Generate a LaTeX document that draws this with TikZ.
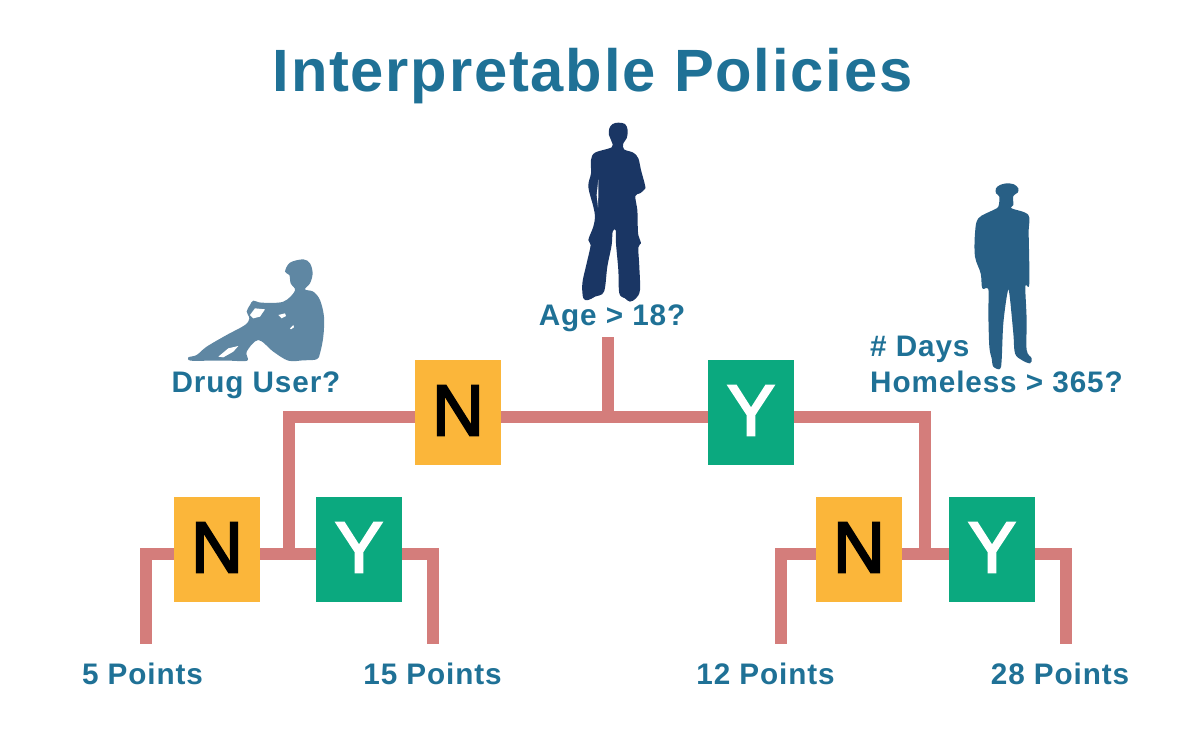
\documentclass[tikz,border=0pt]{standalone}
\usepackage{fontspec}
\setmainfont{Liberation Sans}
\definecolor{texcol}{HTML}{1F7196}
\definecolor{linecol}{HTML}{D47D7B}
\definecolor{nocol}{HTML}{FBB63A}
\definecolor{yescol}{HTML}{0BA97F}
\definecolor{agecol}{HTML}{1A3664}
\definecolor{drugcol}{HTML}{5F87A3}
\definecolor{dayscol}{HTML}{285F85}
\newfontfamily\labfont[LetterSpace=3,Ligatures=NoCommon]{Liberation Sans}
\newfontfamily\boxfont[FakeBold=3]{Liberation Sans}
\tikzset{
  answer/.style={minimum width=86pt,minimum height=105pt,inner sep=0pt,text depth=4pt,font=\fontsize{72}{72}\boxfont},
  nobox/.style={answer,fill=nocol,text=black},
  yesbox/.style={answer,fill=yescol,text=white},
  wire/.style={draw=linecol,line width=12pt,line cap=butt,line join=miter},
  lab/.style={text=texcol,inner sep=0pt,anchor=base,font=\fontsize{29.7}{36}\labfont\bfseries}
}
\begin{document}
\begin{tikzpicture}[x=1pt,y=-1pt]
  \useasboundingbox (0,0) rectangle (1197,737);

  \node[text=texcol,inner sep=0pt,anchor=base,font=\fontsize{59.7}{60}\labfont\bfseries] (title) at (592.5,91) {Interpretable Policies};

  % figures
  \begin{scope}[shift={(530,110)},scale=0.3333]
    \fill[agecol] plot[smooth cycle,tension=0.55] coordinates {(265,38) (285,42) (293,60) (290,85) (280,100) (282,118) (310,128) (325,145) (333,180) (345,225) (345,237) (330,250) (316,258) (322,300) (323,340) (325,375) (333,400) (325,412) (328,470) (330,540) (318,565) (300,575) (285,565) (268,550) (265,480) (258,400) (257,360) (248,365) (245,405) (232,470) (222,545) (195,560) (175,570) (160,565) (157,520) (170,460) (182,405) (175,390) (190,350) (195,320) (190,290) (175,230) (183,190) (183,150) (195,128) (245,112) (245,95) (237,75) (238,55) (248,42)};
    \fill[white] (205,208) -- (200,255) -- (204,292) -- (205,255) -- cycle;
  \end{scope}
  \begin{scope}[shift={(170,250)},scale=0.3333]
    \fill[drugcol] plot[smooth cycle,tension=0.55] coordinates {(400,28) (420,40) (428,70) (420,100) (405,118) (430,125) (450,150) (462,200) (460,260) (450,310) (440,328) (400,331) (355,332) (310,305) (265,270) (230,305) (232,332) (180,332) (120,332) (62,332) (55,322) (80,315) (110,290) (170,255) (225,225) (238,205) (230,185) (240,165) (250,152) (275,158) (340,155) (375,122) (362,100) (358,75) (345,65) (360,38)};
    \fill[white] (145,320) -- (175,295) -- (205,288) -- (190,305) -- (160,322) -- cycle;
    \fill[white] (240,195) -- (255,175) -- (285,178) -- (270,200) -- (250,205) -- cycle;
    \fill[white] (325,195) -- (345,190) -- (348,198) -- (335,205) -- cycle;
    \fill[white] (360,235) -- (370,225) -- (372,232) -- (363,238) -- cycle;
  \end{scope}
  \begin{scope}[shift={(950,170)},scale=0.3333]
    \fill[dayscol] plot[smooth cycle,tension=0.55] coordinates {(138,55) (150,45) (170,40) (192,43) (205,55) (203,68) (190,78) (190,105) (185,115) (235,135) (236,190) (238,340) (228,345) (226,360) (230,450) (230,540) (245,565) (240,580) (215,570) (195,550) (190,490) (178,370) (172,370) (160,460) (155,570) (150,597) (130,590) (125,565) (118,530) (115,430) (115,358) (97,355) (92,310) (75,260) (75,190) (85,145) (130,120) (145,110) (148,80) (138,70)};
  \end{scope}

  % answer boxes
  \node[nobox] (n0) at (458,412.5) {N};
  \node[yesbox] (y0) at (751,412.5) {Y};
  \node[nobox] (n1) at (217,549.5) {N};
  \node[yesbox] (y1) at (359,549.5) {Y};
  \node[nobox] (n2) at (859,549.5) {N};
  \node[yesbox] (y2) at (992,549.5) {Y};

  % free ends
  \coordinate (roottop) at (608,337);
  \coordinate (rootfoot) at (608,417);
  \coordinate (rootleft) at (288.5,417);
  \coordinate (rootright) at (925.3,417);
  \coordinate (ljoin) at (288.5,554);
  \coordinate (rjoin) at (925.3,554);
  \coordinate (ll) at (146,644);
  \coordinate (lr) at (433,644);
  \coordinate (rl) at (781,644);
  \coordinate (rr) at (1066,644);

  % lines
  \draw[wire] (roottop) -- (rootfoot);
  \draw[wire] (n0.east |- rootfoot) -- (y0.west |- rootfoot);
  \draw[wire] (n0.west |- rootfoot) -- (rootleft) -- (ljoin);
  \draw[wire] (y0.east |- rootfoot) -- (rootright) -- (rjoin);
  \draw[wire] (n1.east |- ljoin) -- (y1.west |- ljoin);
  \draw[wire] (n2.east |- rjoin) -- (y2.west |- rjoin);
  \draw[wire] (n1.west |- ljoin) -- (ll |- ljoin) -- (ll);
  \draw[wire] (y1.east |- ljoin) -- (lr |- ljoin) -- (lr);
  \draw[wire] (n2.west |- rjoin) -- (rl |- rjoin) -- (rl);
  \draw[wire] (y2.east |- rjoin) -- (rr |- rjoin) -- (rr);

  % labels
  \node[lab] (age) at (612,325) {Age > 18?};
  \node[lab] (drug) at (256,392) {Drug User?};
  \node[lab,anchor=base west] (days) at (870,356) {\# Days};
  \node[lab,anchor=base west] (homeless) at (870,392) {Homeless > 365?};
  \node[lab] (p5) at (142.5,684) {5 Points};
  \node[lab] (p15) at (432.5,684) {15 Points};
  \node[lab] (p12) at (765.5,684) {12 Points};
  \node[lab] (p28) at (1060,684) {28 Points};
\end{tikzpicture}
\end{document}
